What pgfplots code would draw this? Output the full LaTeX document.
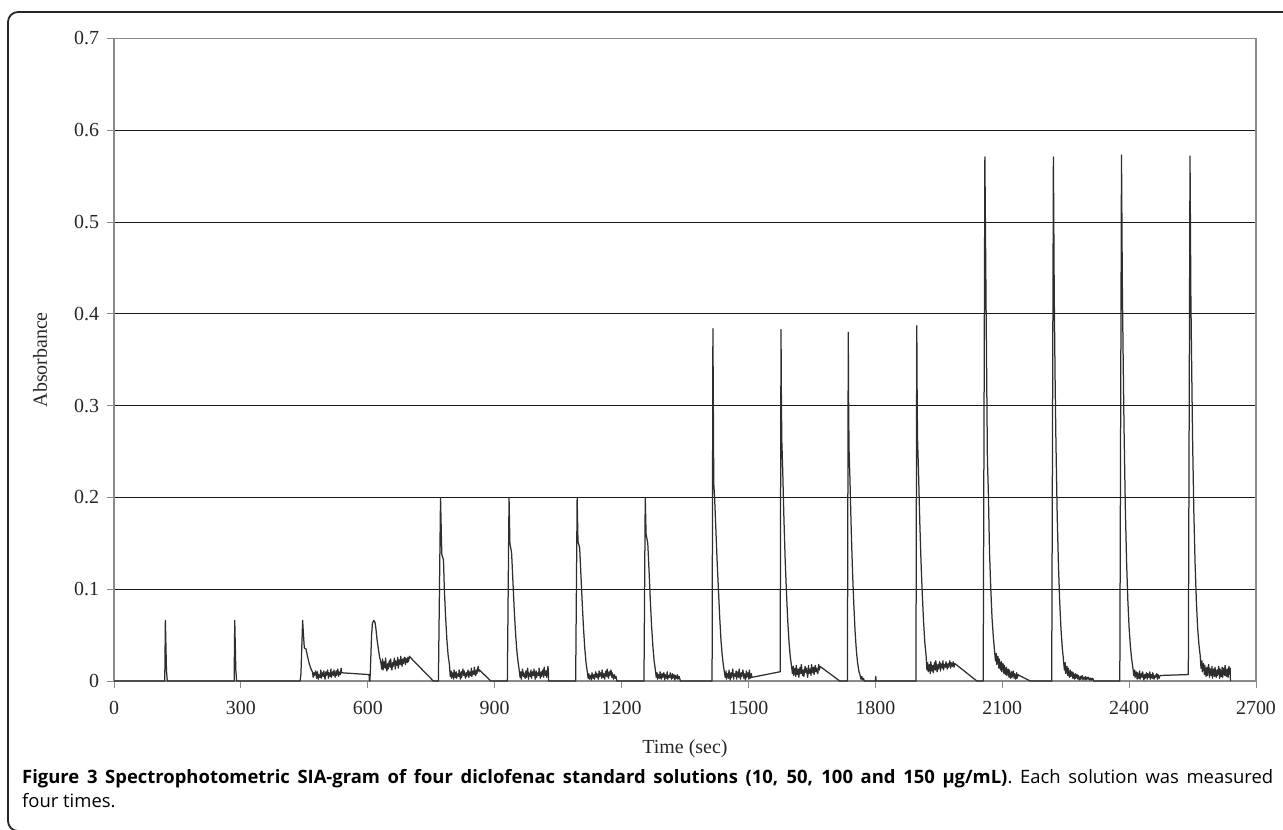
\documentclass[border=0pt]{standalone}
\usepackage{fontspec}
\setmainfont{Liberation Serif}
\newfontfamily\capfont{Open Sans}
\usepackage{pgfplots}
\pgfplotsset{compat=1.18}

\definecolor{trace}{HTML}{2E2E2E}
\definecolor{axisgray}{HTML}{8A8A8A}

\begin{document}
\begin{tikzpicture}
\begin{axis}[
    at={(114bp,-681bp)}, anchor=south west,
    scale only axis, width=1142bp, height=642.5bp,
    xmin=0, xmax=2700, ymin=0, ymax=0.7,
    xtick={0,300,600,900,1200,1500,1800,2100,2400,2700},
    ytick={0,0.1,0.2,0.3,0.4,0.5,0.6,0.7},
    tick pos=left, tick align=outside, major tick length=6.5bp,
    tick style={axisgray, line width=1bp},
    axis line style={axisgray, line width=1.2bp},
    ymajorgrids, grid style={black!90, line width=0.8bp},
    /pgf/number format/assume math mode=true,
    yticklabel style={/pgf/number format/fixed, /pgf/number format/precision=1, xshift=-5bp},
    xticklabel style={/pgf/number format/1000 sep={}, yshift=-10bp},
    tick label style={font=\fontsize{20}{22}\selectfont, text=black!85},
    label style={font=\fontsize{20}{22}\selectfont, text=black!85},
    xlabel={Time (sec)},
    ylabel={Absorbance},
    xlabel style={at={(axis description cs:0.5,-0.1058)}, anchor=center},
    ylabel style={at={(axis description cs:-0.0648,0.5)}, anchor=center},
]
\addplot[trace, line width=1.25bp, line join=round, mark=none] coordinates {
% peaks 1 and 2
(0,0) (120,0) (121.5,0.066) (124,0.012) (126,0) (284,0) (285.5,0.066) (288,0.012) (290,0) (440,0)
% peak 3
(442,0.008) (446,0.066) (448,0.050) (450,0.036) (454,0.035) (457,0.028) (461,0.020) (465,0.014) (469,0.010)
(471,0.004) (473,0.009) (474,0.006) (477,0.011) (479,0.003) (481,0.010) (483,0.002) (484,0.007) (487,0.004)
(489,0.012) (490,0.003) (493,0.009) (495,0.005) (496,0.011) (499,0.002) (501,0.010) (502,0.006) (505,0.012)
(507,0.003) (508,0.009) (511,0.005) (513,0.013) (514,0.004) (517,0.010) (519,0.006) (520,0.012) (523,0.004)
(525,0.011) (526,0.006) (529,0.013) (531,0.005) (532,0.010) (535,0.007) (537,0.014) (538,0.009)
(603,0.007) (604,0) (605,0)
% peak 4
(606,0.010) (609,0.050) (611,0.063) (614,0.066) (617,0.064) (619,0.058) (622,0.045) (625,0.035) (628,0.026) (631,0.020)
(633,0.013) (635,0.024) (636,0.012) (639,0.021) (641,0.014) (642,0.025) (645,0.011) (647,0.019) (648,0.013)
(651,0.022) (653,0.015) (654,0.024) (657,0.012) (659,0.020) (660,0.016) (663,0.025) (665,0.013) (666,0.022)
(669,0.017) (671,0.026) (672,0.014) (675,0.023) (677,0.018) (678,0.027) (681,0.016) (683,0.024) (684,0.019)
(687,0.026) (689,0.018) (690,0.025) (693,0.020) (695,0.026) (696,0.021) (699,0.027) (700,0.026)
(755,0) (766,0)
% peak 5
(767,0) (772,0.200) (775,0.138) (779,0.132) (781,0.100) (784,0.070) (787,0.045) (790,0.028) (793,0.018)
(795,0.005) (797,0.011) (798,0.003) (801,0.009) (803,0.002) (804,0.012) (807,0.004) (809,0.010) (810,0.003)
(813,0.008) (815,0.005) (816,0.012) (819,0.002) (821,0.010) (822,0.004) (825,0.013) (827,0.006) (828,0.011)
(831,0.003) (833,0.009) (834,0.005) (837,0.012) (839,0.004) (840,0.010) (843,0.006) (845,0.014) (846,0.005)
(849,0.011) (851,0.007) (852,0.015) (855,0.006) (857,0.012) (858,0.008) (861,0.016) (863,0.010) (864,0.012)
(891,0) (929,0)
% peak 6
(930,0) (934,0.200) (936,0.150) (940,0.140) (943,0.110) (946,0.080) (949,0.055) (952,0.035) (955,0.022) (958,0.012)
(960,0.004) (962,0.010) (963,0.002) (966,0.013) (968,0.005) (969,0.009) (972,0.003) (974,0.011) (975,0.004)
(978,0.014) (980,0.002) (981,0.009) (984,0.005) (986,0.012) (987,0.003) (990,0.010) (992,0.006) (993,0.013)
(996,0.002) (998,0.011) (999,0.004) (1002,0.009) (1004,0.006) (1005,0.014) (1008,0.003) (1010,0.010)
(1011,0.005) (1014,0.012) (1016,0.004) (1017,0.015) (1020,0.006) (1022,0.011) (1023,0.004) (1026,0.016)
(1027,0.010) (1027.5,0) (1091,0)
% peak 7
(1091.5,0) (1095,0.200) (1097,0.152) (1101,0.145) (1104,0.115) (1107,0.085) (1110,0.058) (1113,0.036) (1116,0.020) (1119,0.010)
(1121,0.003) (1123,0.008) (1124,0.002) (1127,0.006) (1129,0.001) (1130,0.009) (1133,0.003) (1135,0.007)
(1136,0.002) (1139,0.010) (1141,0.004) (1142,0.008) (1145,0.002) (1147,0.011) (1148,0.005) (1151,0.009)
(1153,0.003) (1154,0.012) (1157,0.004) (1159,0.008) (1160,0.002) (1163,0.011) (1165,0.005) (1166,0.013)
(1169,0.003) (1171,0.010) (1172,0.006) (1175,0.012) (1177,0.004) (1178,0.009) (1181,0.002) (1183,0.007)
(1185,0.003) (1187,0.005) (1188,0.002) (1189,0) (1252,0)
% peak 8
(1253,0) (1256,0.200) (1258,0.160) (1262,0.150) (1265,0.120) (1268,0.088) (1271,0.060) (1274,0.038) (1277,0.022) (1280,0.012)
(1282,0.004) (1284,0.009) (1285,0.002) (1288,0.007) (1290,0.003) (1291,0.010) (1294,0.002) (1296,0.008)
(1297,0.004) (1300,0.009) (1302,0.001) (1303,0.007) (1306,0.003) (1308,0.010) (1309,0.002) (1312,0.006)
(1314,0.004) (1315,0.009) (1318,0.002) (1320,0.008) (1321,0.003) (1324,0.007) (1326,0.001) (1327,0.006)
(1330,0.003) (1332,0.007) (1333,0.002) (1336,0.005) (1338,0.002) (1339,0) (1413,0)
% peak 9
(1414,0) (1416,0.384) (1417,0.300) (1418,0.215) (1420,0.200) (1423,0.165) (1426,0.130) (1429,0.100)
(1432,0.070) (1435,0.045) (1438,0.028) (1441,0.016) (1443,0.010)
(1445,0.004) (1447,0.011) (1448,0.002) (1451,0.008) (1453,0.003) (1454,0.012) (1457,0.001) (1459,0.009)
(1460,0.004) (1463,0.013) (1465,0.002) (1466,0.008) (1469,0.005) (1471,0.011) (1472,0.002) (1475,0.010)
(1477,0.004) (1478,0.013) (1481,0.002) (1483,0.009) (1484,0.005) (1487,0.012) (1489,0.003) (1490,0.008)
(1493,0.001) (1495,0.011) (1496,0.004) (1499,0.009) (1501,0.002) (1502,0.012) (1505,0.003) (1507,0.008)
(1508,0.004) (1574,0.010)
% peak 10
(1575,0.010) (1577,0.383) (1578,0.300) (1579,0.260) (1581,0.230) (1584,0.175) (1587,0.130) (1590,0.095)
(1593,0.065) (1596,0.042) (1599,0.026) (1602,0.016)
(1604,0.008) (1606,0.016) (1607,0.006) (1610,0.014) (1612,0.005) (1613,0.017) (1616,0.007) (1618,0.013)
(1619,0.004) (1622,0.015) (1624,0.008) (1625,0.018) (1628,0.006) (1630,0.012) (1631,0.005) (1634,0.016)
(1636,0.009) (1637,0.014) (1640,0.004) (1642,0.017) (1643,0.008) (1646,0.013) (1648,0.006) (1649,0.018)
(1652,0.009) (1654,0.015) (1655,0.007) (1658,0.017) (1660,0.010) (1661,0.014) (1664,0.008) (1666,0.018)
(1668,0.012) (1669,0.016) (1716,0) (1733,0)
% peak 11
(1734,0) (1736,0.380) (1737,0.290) (1738,0.250) (1740,0.220) (1743,0.165) (1746,0.120) (1749,0.085)
(1752,0.055) (1755,0.034) (1758,0.020) (1761,0.011) (1764,0.006) (1766,0.002) (1768,0.005) (1770,0.001)
(1772,0.003) (1774,0) (1800,0) (1801,0.005) (1802,0) (1895,0)
% peak 12
(1896,0) (1898,0.387) (1899,0.300) (1900,0.260) (1902,0.230) (1905,0.175) (1908,0.130) (1911,0.095)
(1914,0.065) (1917,0.042) (1920,0.028)
(1922,0.012) (1924,0.020) (1925,0.010) (1928,0.018) (1930,0.008) (1931,0.021) (1934,0.011) (1936,0.017)
(1937,0.009) (1940,0.020) (1942,0.012) (1943,0.022) (1946,0.010) (1948,0.018) (1949,0.013) (1952,0.021)
(1954,0.011) (1955,0.019) (1958,0.014) (1960,0.022) (1961,0.012) (1964,0.018) (1966,0.015) (1967,0.021)
(1970,0.013) (1972,0.019) (1973,0.015) (1976,0.022) (1978,0.014) (1979,0.020) (1982,0.016) (1984,0.021)
(1986,0.015) (1988,0.019) (2040,0) (2054,0)
% peak 13
(2055,0) (2059,0.571) (2062,0.400) (2065,0.240) (2067,0.210) (2070,0.140) (2073,0.100) (2076,0.068)
(2079,0.048) (2082,0.032)
(2084,0.022) (2086,0.030) (2087,0.018) (2090,0.027) (2092,0.014) (2093,0.024) (2096,0.012) (2098,0.021)
(2099,0.010) (2102,0.019) (2104,0.008) (2105,0.017) (2108,0.007) (2110,0.015) (2111,0.006) (2114,0.013)
(2116,0.004) (2117,0.012) (2120,0.003) (2122,0.010) (2123,0.004) (2126,0.011) (2128,0.003) (2129,0.008)
(2132,0.002) (2134,0.009) (2135,0.003) (2138,0.007) (2140,0.006) (2145,0.005) (2166,0) (2216,0)
% peak 14
(2217,0) (2221,0.571) (2223,0.420) (2225,0.330) (2227,0.260) (2230,0.180) (2233,0.125) (2236,0.085)
(2239,0.056) (2242,0.036) (2245,0.022)
(2247,0.012) (2249,0.020) (2250,0.008) (2253,0.016) (2255,0.006) (2256,0.014) (2259,0.004) (2261,0.012)
(2262,0.005) (2265,0.010) (2267,0.003) (2268,0.009) (2271,0.002) (2273,0.008) (2274,0.003) (2277,0.007)
(2279,0.002) (2280,0.006) (2283,0.001) (2285,0.005) (2286,0.002) (2289,0.006) (2291,0.001) (2292,0.004)
(2295,0.002) (2297,0.005) (2298,0.001) (2301,0.004) (2303,0.002) (2304,0.004) (2307,0.001) (2309,0.003)
(2311,0.001) (2313,0.003) (2315,0.002) (2316,0) (2377,0)
% peak 15
(2378,0) (2382,0.573) (2384,0.430) (2386,0.350) (2388,0.275) (2391,0.190) (2394,0.130) (2397,0.088)
(2400,0.058) (2403,0.038) (2406,0.024) (2409,0.014)
(2411,0.006) (2413,0.012) (2414,0.004) (2417,0.010) (2419,0.002) (2420,0.009) (2423,0.003) (2425,0.011)
(2426,0.002) (2429,0.008) (2431,0.004) (2432,0.010) (2435,0.001) (2437,0.007) (2438,0.003) (2441,0.009)
(2443,0.002) (2444,0.008) (2447,0.004) (2449,0.010) (2450,0.002) (2453,0.007) (2455,0.003) (2456,0.009)
(2459,0.002) (2461,0.006) (2462,0.004) (2465,0.008) (2467,0.002) (2468,0.007) (2471,0.003) (2473,0.006)
(2539,0.007)
% peak 16
(2540,0.007) (2544,0.572) (2546,0.420) (2548,0.340) (2550,0.265) (2553,0.185) (2556,0.128) (2559,0.087)
(2562,0.058) (2565,0.040) (2568,0.028)
(2570,0.014) (2572,0.022) (2573,0.010) (2576,0.019) (2578,0.007) (2579,0.017) (2582,0.005) (2584,0.015)
(2585,0.006) (2588,0.018) (2590,0.004) (2591,0.014) (2594,0.006) (2596,0.016) (2597,0.003) (2600,0.013)
(2602,0.005) (2603,0.015) (2606,0.004) (2608,0.012) (2609,0.006) (2612,0.016) (2614,0.003) (2615,0.013)
(2618,0.005) (2620,0.015) (2621,0.004) (2624,0.014) (2626,0.006) (2627,0.017) (2630,0.005) (2632,0.013)
(2634,0.004) (2636,0.016) (2638,0.007) (2639,0.014) (2639.5,0)
};
\end{axis}
\pgfresetboundingbox
\path[use as bounding box] (0,0) rectangle (1283bp,-830bp);
% figure frame, open on the right
\draw[black!85, line width=1.8bp, rounded corners=10bp]
    (1300bp,-12bp) -- (8bp,-12bp) -- (8bp,-831bp) -- (1300bp,-831bp);
\node[anchor=base west, inner sep=0pt] at (22bp,-783bp) {%
  \parbox[t]{1251bp}{\capfont\fontsize{18.5}{25}\selectfont
  {\bfseries Figure 3 Spectrophotometric SIA-gram of four diclofenac standard solutions (10, 50, 100 and 150 µg/mL)}.
  Each solution was measured\linebreak four times.}};
\end{tikzpicture}
\end{document}
